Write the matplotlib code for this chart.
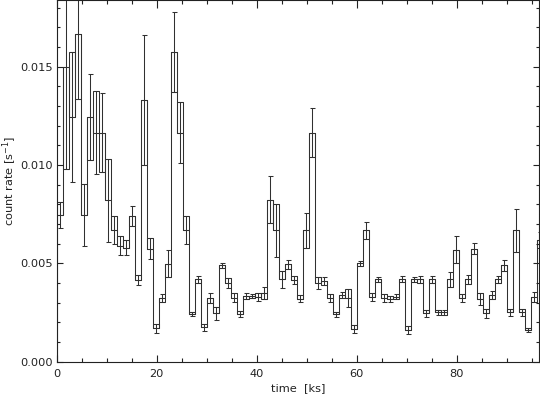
import numpy as np
import matplotlib
matplotlib.use("Agg")
import matplotlib.pyplot as plt
from matplotlib.ticker import MultipleLocator, FormatStrFormatter

# light curve, 1.2 ks bins starting at t = 0
bin_width = 1.2
rate = [
    0.00745, 0.0150, 0.01244, 0.01667, 0.00745, 0.01244, 0.01164, 0.01164, 0.0082, 0.00668,
    0.0059, 0.0058, 0.0074, 0.00415, 0.01328, 0.00575, 0.00169, 0.00325, 0.00499, 0.01574,
    0.01164, 0.00668, 0.00243, 0.00418, 0.00174, 0.00325, 0.00245, 0.0049, 0.0040, 0.00325,
    0.00243, 0.00334, 0.00334, 0.0033, 0.0035, 0.00824, 0.00668, 0.00418, 0.00494, 0.00415,
    0.00321, 0.00668, 0.01164, 0.0040, 0.0041, 0.00325, 0.00242, 0.00338, 0.00325, 0.00164,
    0.0050, 0.00667, 0.0033, 0.00418, 0.00325, 0.0032, 0.0033, 0.00418, 0.0016, 0.00418,
    0.0042, 0.00245, 0.00418, 0.0025, 0.0025, 0.00418, 0.0057, 0.00325, 0.00418, 0.00575,
    0.0032, 0.00245, 0.0034, 0.0042, 0.0049, 0.0025, 0.00668, 0.0025, 0.0016, 0.0033,
    0.0062,
]
rate_err = [
    0.00068, 0.0052, 0.0033, 0.0033, 0.00157, 0.00217, 0.0021, 0.0020, 0.0021, 0.0007,
    0.0005, 0.0004, 0.0005, 0.00025, 0.0033, 0.00053, 0.00022, 0.0002, 0.00068, 0.00203,
    0.00154, 0.0007, 0.00012, 0.00017, 0.00017, 0.00025, 0.00032, 0.00012, 0.00025, 0.00022,
    0.00014, 0.00016, 0.00012, 0.0002, 0.0003, 0.00118, 0.00134, 0.00044, 0.00025, 0.0002,
    0.0002, 0.00088, 0.00125, 0.0003, 0.0002, 0.0002, 0.00013, 0.00015, 0.00045, 0.0002,
    0.00012, 0.00044, 0.0002, 0.00012, 0.0002, 0.00015, 0.00012, 0.00015, 0.0002, 0.00013,
    0.00018, 0.0002, 0.0002, 0.00012, 0.00014, 0.0004, 0.0007, 0.0002, 0.00025, 0.00027,
    0.0003, 0.00022, 0.0002, 0.00018, 0.00027, 0.0002, 0.0011, 0.0002, 0.0001, 0.00025,
    0.0004,
]

rate = np.array(rate)
rate_err = np.array(rate_err)
n = len(rate)
edges = bin_width * np.arange(n + 1)
centers = edges[:-1] + bin_width / 2

# each bin box goes from the rate towards the previous bin by one sigma
prev = np.r_[rate[1], rate[:-1]]
box_edge = np.where(prev > rate, rate + rate_err, rate - rate_err)

plt.rcParams["font.family"] = "DejaVu Sans"
fig = plt.figure(figsize=(5.4, 3.97), dpi=100)
ax = fig.add_axes([0.105, 0.089, 0.8937, 0.9098])

lc = "#303030"
lw = 0.75
ax.stairs(rate, edges, color=lc, lw=lw)
ax.bar(centers, box_edge - rate, bottom=rate, width=bin_width, fill=False,
       edgecolor=lc, linewidth=lw)
ax.errorbar(centers, rate, yerr=rate_err, fmt="none", ecolor=lc,
            elinewidth=lw, capsize=1.8, capthick=lw)

ax.set_xlim(0, 96.5)
ax.set_ylim(0, 0.01836)
ax.xaxis.set_major_locator(MultipleLocator(20))
ax.xaxis.set_minor_locator(MultipleLocator(5))
ax.yaxis.set_major_locator(MultipleLocator(0.005))
ax.yaxis.set_minor_locator(MultipleLocator(0.001))
ax.yaxis.set_major_formatter(FormatStrFormatter("%.3f"))

ax.tick_params(which="both", direction="in", top=True, right=True,
               labelsize=8.2, colors="#222222", width=0.8)
ax.tick_params(axis="x", which="major", length=5.4, pad=5)
ax.tick_params(axis="x", which="minor", length=2.7)
ax.tick_params(axis="y", which="major", length=4.2, pad=3)
ax.tick_params(axis="y", which="minor", length=2.2)
for s in ax.spines.values():
    s.set_linewidth(0.8)
    s.set_color("#222222")

ax.set_xlabel("time  [ks]", fontsize=8.2, color="#222222", labelpad=3)
ax.set_ylabel("count rate [s$^{-1}$]", fontsize=8.2, color="#222222")
ax.yaxis.set_label_coords(-0.078, 0.5)

fig.savefig("out.png", dpi=100)
